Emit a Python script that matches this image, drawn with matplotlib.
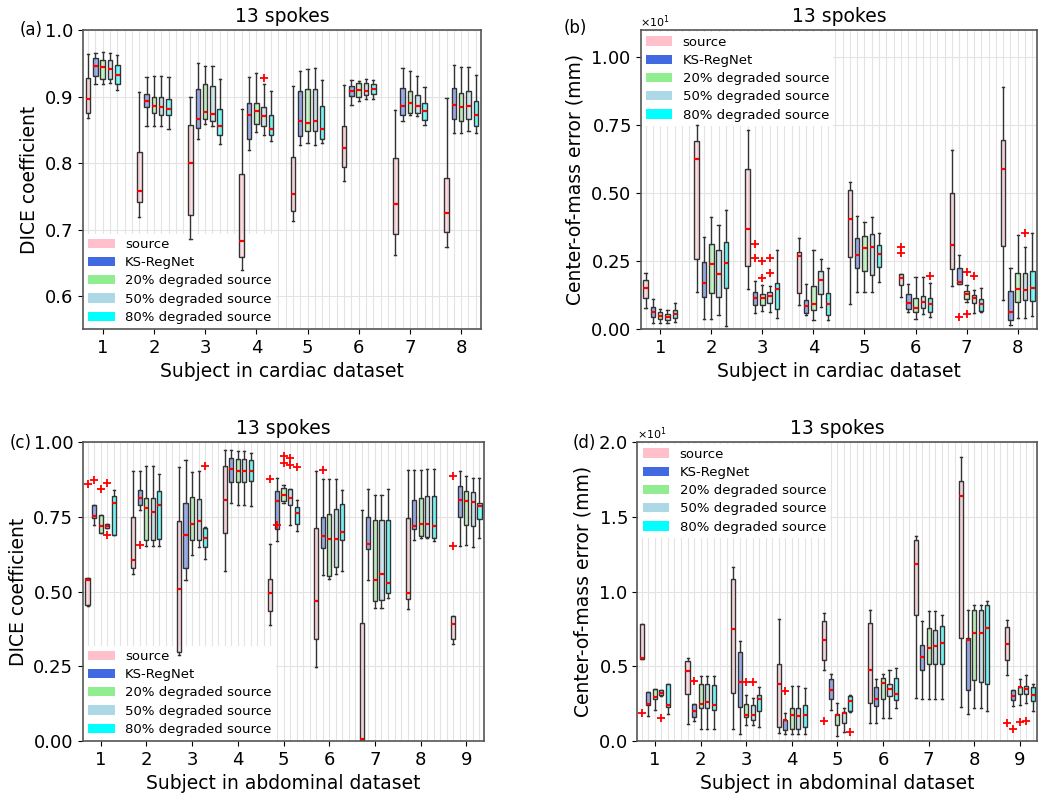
import matplotlib
matplotlib.use("Agg")
import matplotlib.pyplot as plt
from matplotlib.colors import to_rgba
from matplotlib.patches import Patch
from matplotlib.ticker import MultipleLocator

methods = ["source", "KS-RegNet", "20% degraded source", "50% degraded source", "80% degraded source"]
colors = ["pink", "royalblue", "lightgreen", "lightblue", "cyan"]

# box stats per subject: (whisker low, q1, median, q3, whisker high)
# (a) DICE, cardiac
a_source = [(0.868, 0.876, 0.896, 0.928, 0.965), (0.719, 0.741, 0.758, 0.816, 0.907),
            (0.685, 0.722, 0.800, 0.858, 0.900), (0.639, 0.658, 0.683, 0.783, 0.881),
            (0.713, 0.728, 0.754, 0.809, 0.916), (0.773, 0.794, 0.823, 0.856, 0.918),
            (0.662, 0.694, 0.738, 0.807, 0.880), (0.673, 0.696, 0.725, 0.778, 0.898)]
a_ks = [(0.919, 0.931, 0.946, 0.959, 0.966), (0.856, 0.884, 0.894, 0.904, 0.930),
        (0.836, 0.853, 0.866, 0.912, 0.951), (0.820, 0.836, 0.873, 0.891, 0.929),
        (0.828, 0.841, 0.864, 0.908, 0.939), (0.888, 0.901, 0.909, 0.916, 0.925),
        (0.863, 0.873, 0.886, 0.913, 0.943), (0.846, 0.867, 0.887, 0.913, 0.947)]
a_deg20 = [(0.919, 0.927, 0.944, 0.956, 0.967), (0.856, 0.875, 0.886, 0.900, 0.931),
           (0.859, 0.866, 0.877, 0.919, 0.946), (0.847, 0.859, 0.878, 0.891, 0.936),
           (0.830, 0.849, 0.860, 0.911, 0.942), (0.894, 0.900, 0.910, 0.921, 0.923),
           (0.872, 0.876, 0.890, 0.909, 0.938), (0.846, 0.864, 0.885, 0.905, 0.945)]
a_deg50 = [(0.920, 0.927, 0.941, 0.955, 0.966), (0.856, 0.873, 0.884, 0.900, 0.931),
           (0.856, 0.864, 0.874, 0.916, 0.946), (0.842, 0.856, 0.871, 0.884, 0.919),
           (0.828, 0.849, 0.863, 0.911, 0.943), (0.896, 0.903, 0.909, 0.920, 0.926),
           (0.871, 0.875, 0.886, 0.903, 0.931), (0.848, 0.866, 0.886, 0.909, 0.945)]
a_deg80 = [(0.910, 0.919, 0.933, 0.948, 0.963), (0.851, 0.872, 0.882, 0.896, 0.929),
           (0.829, 0.843, 0.856, 0.881, 0.927), (0.833, 0.842, 0.851, 0.872, 0.909),
           (0.830, 0.836, 0.851, 0.886, 0.925), (0.897, 0.904, 0.911, 0.919, 0.925),
           (0.857, 0.865, 0.878, 0.891, 0.914), (0.846, 0.856, 0.872, 0.894, 0.932)]
# outliers: (subject, method index) -> values
a_fliers = {(4, 3): [0.928]}

# (b) center-of-mass error (mm), cardiac
b_source = [(0.77, 1.14, 1.50, 1.81, 2.08), (1.38, 2.60, 6.27, 6.94, 7.53),
            (1.47, 2.33, 3.67, 5.90, 7.33), (0.89, 1.34, 2.69, 2.85, 3.34),
            (0.93, 2.64, 4.05, 5.13, 5.42), (1.17, 1.63, 1.87, 2.03, 2.03),
            (1.60, 2.20, 3.09, 5.01, 6.58), (1.08, 3.07, 5.90, 6.98, 8.92)]
b_ks = [(0.24, 0.44, 0.62, 0.83, 1.11), (0.37, 1.20, 1.71, 2.48, 3.40),
        (0.59, 0.89, 1.14, 1.38, 1.77), (0.53, 0.61, 0.87, 1.08, 1.65),
        (1.36, 2.24, 2.73, 3.37, 4.16), (0.65, 0.75, 0.98, 1.30, 1.65),
        (1.65, 1.65, 1.75, 2.26, 2.73), (0.16, 0.32, 0.65, 1.41, 2.24)]
b_deg20 = [(0.24, 0.37, 0.49, 0.62, 0.75), (0.37, 1.34, 2.40, 3.12, 4.13),
           (0.68, 0.89, 1.14, 1.30, 1.63), (0.32, 0.71, 0.93, 1.60, 2.93),
           (1.38, 2.15, 2.97, 3.42, 3.95), (0.37, 0.62, 0.77, 1.16, 1.93),
           (1.01, 1.11, 1.28, 1.42, 1.63), (0.40, 1.01, 1.47, 2.05, 3.46)]
b_deg50 = [(0.22, 0.32, 0.43, 0.56, 0.71), (0.53, 1.20, 2.03, 2.91, 3.83),
           (0.65, 0.98, 1.22, 1.38, 1.59), (0.83, 1.30, 1.81, 2.15, 2.57),
           (1.36, 1.99, 3.03, 3.52, 4.13), (0.56, 0.77, 1.01, 1.23, 1.93),
           (0.59, 0.95, 1.14, 1.26, 1.44), (0.40, 1.08, 1.44, 2.05, 3.03)]
b_deg80 = [(0.26, 0.40, 0.55, 0.71, 0.98), (0.12, 1.50, 2.44, 3.22, 4.40),
           (0.40, 0.75, 1.47, 1.69, 2.91), (0.34, 0.53, 0.92, 1.32, 2.26),
           (1.72, 2.30, 2.75, 3.09, 3.55), (0.46, 0.65, 0.92, 1.16, 1.71),
           (0.65, 0.68, 0.93, 1.11, 1.50), (0.49, 1.05, 1.50, 2.15, 3.55)]
b_fliers = {(6, 0): [2.81, 3.01], (3, 1): [3.14, 2.61], (7, 1): [0.43],
            (3, 2): [2.52, 1.88], (7, 2): [2.11, 0.56], (3, 3): [2.62, 2.06],
            (7, 3): [1.96], (8, 3): [3.55], (6, 4): [1.96]}

# (c) DICE, abdominal
c_source = [(0.451, 0.455, 0.538, 0.546, 0.546), (0.561, 0.578, 0.605, 0.750, 0.904),
            (0.288, 0.297, 0.508, 0.737, 0.918), (0.570, 0.695, 0.806, 0.920, 0.973),
            (0.388, 0.435, 0.497, 0.544, 0.661), (0.249, 0.343, 0.468, 0.715, 0.903),
            (0.003, 0.003, 0.007, 0.397, 0.773), (0.441, 0.477, 0.496, 0.747, 0.909),
            (0.324, 0.341, 0.391, 0.418, 0.418)]
c_ks = [(0.725, 0.748, 0.755, 0.792, 0.792), (0.775, 0.792, 0.815, 0.842, 0.903),
        (0.538, 0.580, 0.689, 0.797, 0.940), (0.797, 0.867, 0.910, 0.948, 0.973),
        (0.669, 0.711, 0.804, 0.836, 0.881), (0.557, 0.647, 0.686, 0.750, 0.878),
        (0.541, 0.644, 0.661, 0.750, 0.843), (0.672, 0.709, 0.720, 0.808, 0.909),
        (0.653, 0.750, 0.806, 0.853, 0.903)]
c_deg20 = [(0.698, 0.698, 0.719, 0.756, 0.756), (0.653, 0.672, 0.780, 0.815, 0.920),
           (0.622, 0.672, 0.726, 0.817, 0.901), (0.792, 0.867, 0.904, 0.945, 0.970),
           (0.798, 0.803, 0.825, 0.848, 0.856), (0.544, 0.553, 0.676, 0.759, 0.878),
           (0.447, 0.468, 0.538, 0.741, 0.825), (0.680, 0.686, 0.728, 0.815, 0.909),
           (0.656, 0.725, 0.804, 0.837, 0.886)]
c_deg50 = [(0.714, 0.714, 0.720, 0.728, 0.728), (0.653, 0.674, 0.767, 0.815, 0.920),
           (0.650, 0.674, 0.737, 0.809, 0.904), (0.792, 0.867, 0.903, 0.945, 0.970),
           (0.725, 0.789, 0.814, 0.843, 0.843), (0.561, 0.583, 0.676, 0.778, 0.876),
           (0.447, 0.474, 0.559, 0.741, 0.825), (0.680, 0.683, 0.728, 0.821, 0.912),
           (0.650, 0.720, 0.800, 0.834, 0.882)]
c_deg80 = [(0.690, 0.690, 0.798, 0.820, 0.842), (0.653, 0.678, 0.792, 0.836, 0.893),
           (0.611, 0.650, 0.681, 0.715, 0.717), (0.786, 0.870, 0.903, 0.942, 0.965),
           (0.703, 0.728, 0.764, 0.784, 0.806), (0.570, 0.672, 0.700, 0.793, 0.842),
           (0.479, 0.497, 0.531, 0.741, 0.845), (0.669, 0.680, 0.720, 0.821, 0.912),
           (0.680, 0.742, 0.786, 0.798, 0.881)]
c_fliers = {(1, 0): [0.862], (5, 0): [0.878], (9, 0): [0.888, 0.652],
            (1, 1): [0.873], (2, 1): [0.655], (5, 1): [0.725], (6, 1): [0.906],
            (1, 2): [0.845], (5, 2): [0.953, 0.932],
            (1, 3): [0.864, 0.691], (5, 3): [0.949, 0.923],
            (3, 4): [0.920], (5, 4): [0.918]}

# (d) center-of-mass error (mm), abdominal
d_source = [(5.53, 5.53, 5.57, 7.87, 7.87), (1.18, 3.14, 4.70, 5.37, 5.57),
            (0.85, 3.23, 7.54, 10.88, 11.66), (0.56, 0.96, 3.86, 5.15, 8.16),
            (4.78, 5.42, 6.78, 8.02, 8.58), (1.25, 2.56, 4.79, 7.92, 8.76),
            (2.92, 8.43, 11.84, 13.44, 13.71), (2.30, 6.93, 16.41, 17.39, 19.02),
            (4.45, 5.46, 6.53, 7.67, 8.14)]
d_ks = [(1.72, 2.43, 2.47, 3.28, 3.32), (1.36, 1.63, 2.01, 2.52, 2.52),
        (0.47, 2.30, 3.97, 5.98, 6.69), (0.51, 0.78, 1.40, 1.45, 1.92),
        (2.10, 2.85, 3.46, 4.17, 4.53), (1.25, 2.36, 2.85, 3.63, 4.19),
        (2.85, 4.79, 5.64, 6.47, 8.05), (1.85, 3.41, 6.80, 6.91, 8.76),
        (2.34, 2.74, 3.03, 3.41, 3.46)]
d_deg20 = [(2.10, 2.80, 2.95, 3.47, 3.52), (0.85, 2.19, 2.47, 3.86, 4.35),
           (1.07, 1.63, 1.74, 2.52, 3.08), (0.51, 0.85, 1.78, 2.19, 3.68),
           (0.38, 1.10, 1.78, 1.85, 2.56), (1.58, 2.85, 3.90, 4.24, 4.48),
           (2.85, 5.20, 6.27, 7.58, 8.70), (2.25, 4.12, 7.27, 8.81, 9.14),
           (2.41, 3.14, 3.63, 3.63, 4.19)]
d_deg50 = [(3.05, 3.08, 3.25, 3.40, 3.41), (0.85, 2.25, 2.63, 3.86, 4.35),
           (1.07, 1.40, 1.74, 2.41, 2.90), (0.51, 0.85, 1.69, 2.19, 3.68),
           (0.60, 1.20, 1.88, 1.96, 2.25), (1.56, 3.01, 3.52, 3.86, 4.79),
           (2.81, 5.20, 6.38, 7.47, 8.72), (2.25, 3.97, 7.27, 8.76, 9.14),
           (2.56, 3.19, 3.52, 3.70, 4.41)]
d_deg80 = [(1.85, 2.32, 2.45, 3.83, 3.86), (0.85, 2.07, 2.45, 3.79, 4.35),
           (0.96, 2.01, 2.85, 3.08, 3.63), (0.51, 0.96, 1.78, 2.45, 3.57),
           (1.98, 2.03, 2.72, 3.01, 3.08), (2.19, 2.74, 3.14, 4.24, 4.91),
           (2.85, 5.20, 6.60, 7.71, 8.43), (2.03, 3.86, 7.60, 9.10, 9.36),
           (2.01, 2.68, 3.12, 3.63, 3.86)]
d_fliers = {(1, 0): [1.92], (5, 0): [1.32], (9, 0): [1.25],
            (2, 1): [4.04], (4, 1): [3.37], (9, 1): [0.80],
            (3, 2): [3.99], (9, 2): [1.29],
            (1, 3): [1.52], (3, 3): [3.99], (9, 3): [1.34],
            (5, 4): [0.62]}

GRID = "#e3e3e3"


def draw_panel(ax, series, fliers, n_subj):
    for k, (vals, col) in enumerate(zip(series, colors)):
        stats = []
        for g, (lo, q1, med, q3, hi) in enumerate(vals):
            stats.append(dict(whislo=lo, q1=q1, med=med, q3=q3, whishi=hi,
                              fliers=fliers.get((g + 1, k), [])))
        pos = [7 * g + k for g in range(n_subj)]
        bp = ax.bxp(stats, positions=pos, widths=0.62, patch_artist=True,
                    manage_ticks=False,
                    boxprops=dict(edgecolor="#333333", linewidth=1.0),
                    whiskerprops=dict(color="#333333", linewidth=1.0),
                    capprops=dict(color="#333333", linewidth=1.0),
                    medianprops=dict(color="red", linewidth=1.6),
                    flierprops=dict(marker="+", markeredgecolor="red",
                                    markersize=6, markeredgewidth=1.3))
        for b in bp["boxes"]:
            b.set_facecolor(to_rgba(col, 0.5))
            b.set_zorder(2)

    ax.set_xticks([7 * g + 2 for g in range(n_subj)])
    ax.set_xticklabels([str(g + 1) for g in range(n_subj)])
    ax.set_xticks(range(0, 7 * (n_subj - 1) + 5), minor=True)
    ax.set_xlim(-0.7, 7 * (n_subj - 1) + 4.7)
    ax.tick_params(which="minor", length=0)
    ax.tick_params(labelsize=13)
    ax.grid(True, which="both", axis="x", color=GRID, linewidth=0.8)
    ax.grid(True, which="major", axis="y", color=GRID, linewidth=0.8)
    ax.set_axisbelow(True)
    for s in ax.spines.values():
        s.set_color("#555555")
        s.set_linewidth(1.2)


def add_legend(ax, loc):
    handles = [Patch(facecolor=c, edgecolor="none", label=m) for c, m in zip(colors, methods)]
    leg = ax.legend(handles=handles, loc=loc, fontsize=9.5, labelspacing=0.4,
                    borderaxespad=0.1, borderpad=0.3, frameon=True,
                    framealpha=1, fancybox=False)
    leg.get_frame().set_edgecolor("none")
    # keep boxes drawn over the legend background, grid hidden under it
    leg.set_zorder(1.5)


fig = plt.figure(figsize=(10.5, 7.97), dpi=100)

axA = fig.add_axes([0.079, 0.587, 0.379, 0.375])
axB = fig.add_axes([0.610, 0.587, 0.378, 0.375])
axC = fig.add_axes([0.079, 0.070, 0.382, 0.375])
axD = fig.add_axes([0.607, 0.070, 0.381, 0.375])

draw_panel(axA, [a_source, a_ks, a_deg20, a_deg50, a_deg80], a_fliers, 8)
axA.set_ylim(0.55, 1.0)
axA.yaxis.set_major_locator(MultipleLocator(0.1))
axA.set_ylabel("DICE coefficient", fontsize=13.5)
axA.set_xlabel("Subject in cardiac dataset", fontsize=13.5)
axA.set_title("13 spokes", fontsize=13.5)
add_legend(axA, "lower left")

draw_panel(axB, [b_source, b_ks, b_deg20, b_deg50, b_deg80], b_fliers, 8)
axB.set_ylim(0, 11)
axB.yaxis.set_major_locator(MultipleLocator(2.5))
axB.ticklabel_format(axis="y", style="sci", scilimits=(1, 1), useMathText=True)
axB.yaxis.get_offset_text().set_fontsize(8)
axB.set_ylabel("Center-of-mass error (mm)", fontsize=13.5)
axB.set_xlabel("Subject in cardiac dataset", fontsize=13.5)
axB.set_title("13 spokes", fontsize=13.5)
add_legend(axB, "upper left")

draw_panel(axC, [c_source, c_ks, c_deg20, c_deg50, c_deg80], c_fliers, 9)
axC.set_ylim(0, 1.0)
axC.yaxis.set_major_locator(MultipleLocator(0.25))
axC.set_ylabel("DICE coefficient", fontsize=13.5)
axC.set_xlabel("Subject in abdominal dataset", fontsize=13.5)
axC.set_title("13 spokes", fontsize=13.5)
add_legend(axC, "lower left")

draw_panel(axD, [d_source, d_ks, d_deg20, d_deg50, d_deg80], d_fliers, 9)
axD.set_ylim(0, 20)
axD.yaxis.set_major_locator(MultipleLocator(5))
axD.ticklabel_format(axis="y", style="sci", scilimits=(1, 1), useMathText=True)
axD.yaxis.get_offset_text().set_fontsize(8)
axD.set_ylabel("Center-of-mass error (mm)", fontsize=13.5)
axD.set_xlabel("Subject in abdominal dataset", fontsize=13.5)
axD.set_title("13 spokes", fontsize=13.5)
add_legend(axD, "upper left")

fig.text(0.019, 0.962, "(a)", fontsize=12, va="center")
fig.text(0.537, 0.965, "(b)", fontsize=12, va="center")
fig.text(0.009, 0.444, "(c)", fontsize=12, va="center")
fig.text(0.545, 0.444, "(d)", fontsize=12, va="center")

fig.savefig("out.png", dpi=100)
